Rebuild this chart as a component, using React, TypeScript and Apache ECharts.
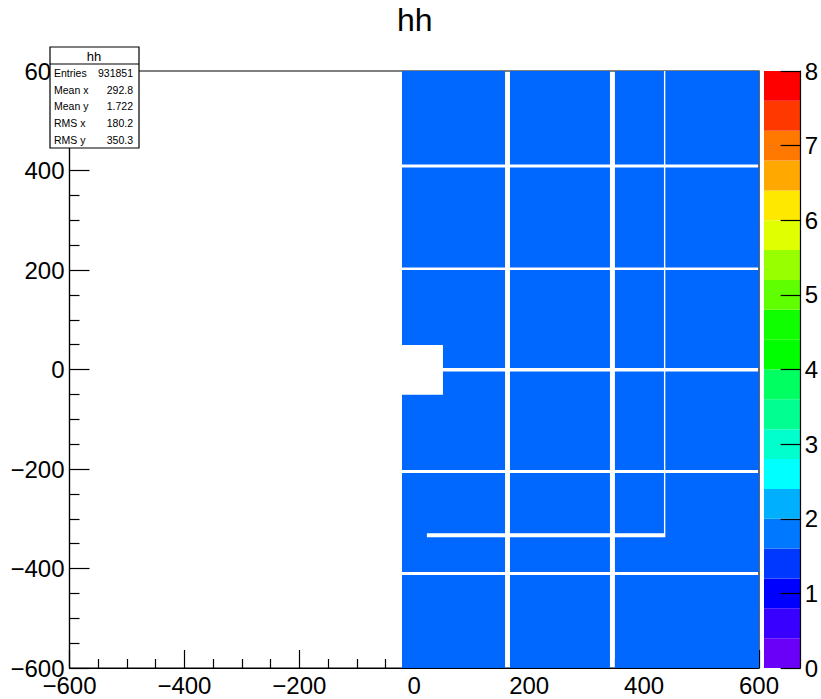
import React, { useEffect, useRef } from "react";
import * as echarts from "echarts";

const FONT = '"Liberation Sans", Arial, sans-serif';

// Detector panels: x ranges, y ranges (top to bottom) and the mean occupancy.
const panelColumns = [
  [-21.3, 158],
  [166.6, 340.6],
  [349.3, 600],
];
const panelRows = [
  [412, 600],
  [205, 406],
  [3, 200],
  [-202, -4],
  [-407, -208],
  [-600, -413],
];
const panelMeans = [
  [1.58, 1.58, 1.58],
  [1.58, 1.58, 1.58],
  [1.58, 1.58, 1.58],
  [1.58, 1.58, 1.58],
  [1.58, 1.58, 1.58],
  [1.58, 1.58, 1.58],
];

// Empty regions inside the panels: [xMin, xMax, yMin, yMax]
const deadZones = [
  [434.6, 437, -330, 600],
  [22, 437, -337, -329],
  [-21.3, 50, -51, 49],
];

// Colour scale
const scaleLevels = [
  0, 0.4, 0.8, 1.2, 1.6, 2, 2.4, 2.8, 3.2, 3.6, 4, 4.4, 4.8, 5.2, 5.6, 6, 6.4, 6.8, 7.2, 7.6,
];
const scaleStep = 0.4;
const scaleColors = [
  "#6a00f8", "#3800ff", "#0000ff", "#0038ff", "#0078ff",
  "#00b0ff", "#00ffff", "#00ffcc", "#00ff90", "#00ff60",
  "#00ff00", "#10ff00", "#60ff00", "#98ff00", "#e0ff00",
  "#ffe800", "#ffa800", "#ff7800", "#ff3800", "#ff0000",
];

// Statistics box
const statsTitle = "hh";
const statsLabels = ["Entries", "Mean x", "Mean y", "RMS x", "RMS y"];
const statsValues = ["931851", "292.8", "1.722", "180.2", "350.3"];
const statsLineY = [73, 90, 106, 123, 140];

const rectRenderer = (x0: number, x1: number, y0: number, y1: number, api: any, fill: string) => {
  const a = api.coord([x0, y1]);
  const b = api.coord([x1, y0]);
  return {
    type: "rect",
    shape: { x: a[0], y: a[1], width: b[0] - a[0], height: b[1] - a[1] },
    style: { fill },
  };
};

const minusLabel = (v: number) => String(v).replace("-", "\u2212");

export default function App() {
  const ref = useRef<HTMLDivElement>(null);

  useEffect(() => {
    document.body.style.margin = "0";
    const chart = echarts.init(ref.current!, null, { renderer: "svg" });

    const panelData: number[][] = [];
    panelRows.forEach((row, r) =>
      panelColumns.forEach((col, c) =>
        panelData.push([col[0], col[1], row[0], row[1], panelMeans[r][c]])
      )
    );

    const statsElements: any[] = [
      {
        type: "rect",
        z: 100,
        shape: { x: 50, y: 47, width: 89, height: 101 },
        style: { fill: "#fff", stroke: "#000", lineWidth: 1.2 },
      },
      { type: "line", z: 101, shape: { x1: 50, y1: 64, x2: 139, y2: 64 }, style: { stroke: "#000", lineWidth: 1.2 } },
      {
        type: "text",
        z: 101,
        x: 94,
        y: 56,
        style: { text: statsTitle, font: `13px ${FONT}`, fill: "#000", align: "center", verticalAlign: "middle" },
      },
    ];
    statsLabels.forEach((label, i) => {
      statsElements.push({
        type: "text",
        z: 101,
        x: 54,
        y: statsLineY[i],
        style: { text: label, font: `10.5px ${FONT}`, fill: "#000", align: "left", verticalAlign: "middle" },
      });
      statsElements.push({
        type: "text",
        z: 101,
        x: 133,
        y: statsLineY[i],
        style: { text: statsValues[i], font: `10.5px ${FONT}`, fill: "#000", align: "right", verticalAlign: "middle" },
      });
    });

    const axisLabel = { color: "#000", fontFamily: FONT, fontSize: 24 };

    chart.setOption({
      animation: false,
      backgroundColor: "#fff",
      title: {
        text: "hh",
        left: 392,
        top: -1,
        textStyle: { color: "#000", fontFamily: FONT, fontSize: 32, fontWeight: "normal" },
      },
      grid: [
        { left: 69.5, top: 71, width: 689.5, height: 597, show: true, borderColor: "#000", borderWidth: 1.2, backgroundColor: "transparent" },
        { left: 764, top: 71, width: 39, height: 597, show: false },
      ],
      xAxis: [
        {
          gridIndex: 0,
          type: "value",
          position: "bottom",
          min: -600,
          max: 600,
          interval: 200,
          splitLine: { show: false },
          axisLine: { onZero: false, lineStyle: { color: "#000", width: 1.2 } },
          axisTick: { inside: true, length: 18, lineStyle: { color: "#000", width: 1.2 } },
          minorTick: { show: true, splitNumber: 4, length: 9, lineStyle: { color: "#000", width: 1.2 } },
          axisLabel: { ...axisLabel, margin: 5, showMinLabel: true, showMaxLabel: true, formatter: minusLabel },
        },
        { gridIndex: 1, type: "value", min: 0, max: 1, show: false, axisLine: { onZero: false } },
      ],
      yAxis: [
        {
          gridIndex: 0,
          type: "value",
          position: "left",
          min: -600,
          max: 600,
          interval: 200,
          splitLine: { show: false },
          axisLine: { onZero: false, lineStyle: { color: "#000", width: 1.2 } },
          axisTick: { inside: true, length: 20, lineStyle: { color: "#000", width: 1.2 } },
          minorTick: { show: true, splitNumber: 4, length: 10, lineStyle: { color: "#000", width: 1.2 } },
          axisLabel: { ...axisLabel, margin: 5, showMinLabel: true, showMaxLabel: true, formatter: minusLabel },
        },
        {
          gridIndex: 1,
          type: "value",
          position: "right",
          min: 0,
          max: 8,
          interval: 1,
          splitLine: { show: false },
          axisLine: { show: true, onZero: false, lineStyle: { color: "#000", width: 1.2 } },
          axisTick: { show: true, inside: true, length: 20, lineStyle: { color: "#000", width: 1.2 } },
          axisLabel: { ...axisLabel, margin: 4, showMinLabel: true, showMaxLabel: true },
          z: 5,
        },
      ],
      visualMap: {
        show: false,
        seriesIndex: 0,
        dimension: 4,
        min: 0,
        max: 8,
        inRange: { color: scaleColors },
      },
      series: [
        {
          type: "custom",
          name: "hh",
          xAxisIndex: 0,
          yAxisIndex: 0,
          data: panelData,
          encode: { x: [0, 1], y: [2, 3] },
          renderItem: (_: any, api: any) =>
            rectRenderer(api.value(0), api.value(1), api.value(2), api.value(3), api, api.visual("color")),
          z: 2,
        },
        {
          type: "custom",
          name: "dead zones",
          xAxisIndex: 0,
          yAxisIndex: 0,
          data: deadZones,
          encode: { x: [0, 1], y: [2, 3] },
          renderItem: (_: any, api: any) =>
            rectRenderer(api.value(0), api.value(1), api.value(2), api.value(3), api, "#fff"),
          z: 3,
        },
        {
          type: "custom",
          name: "colour scale",
          xAxisIndex: 1,
          yAxisIndex: 1,
          data: scaleLevels.map((low) => [low, low + scaleStep]),
          encode: { y: [0, 1] },
          renderItem: (p: any, api: any) =>
            rectRenderer(0, 1, api.value(0), api.value(1), api, scaleColors[p.dataIndex]),
          z: 2,
        },
      ],
      graphic: { elements: [{ type: "group", z: 100, children: statsElements }] },
    });

    return () => chart.dispose();
  }, []);

  return <div ref={ref} style={{ width: 821, height: 699 }} />;
}
